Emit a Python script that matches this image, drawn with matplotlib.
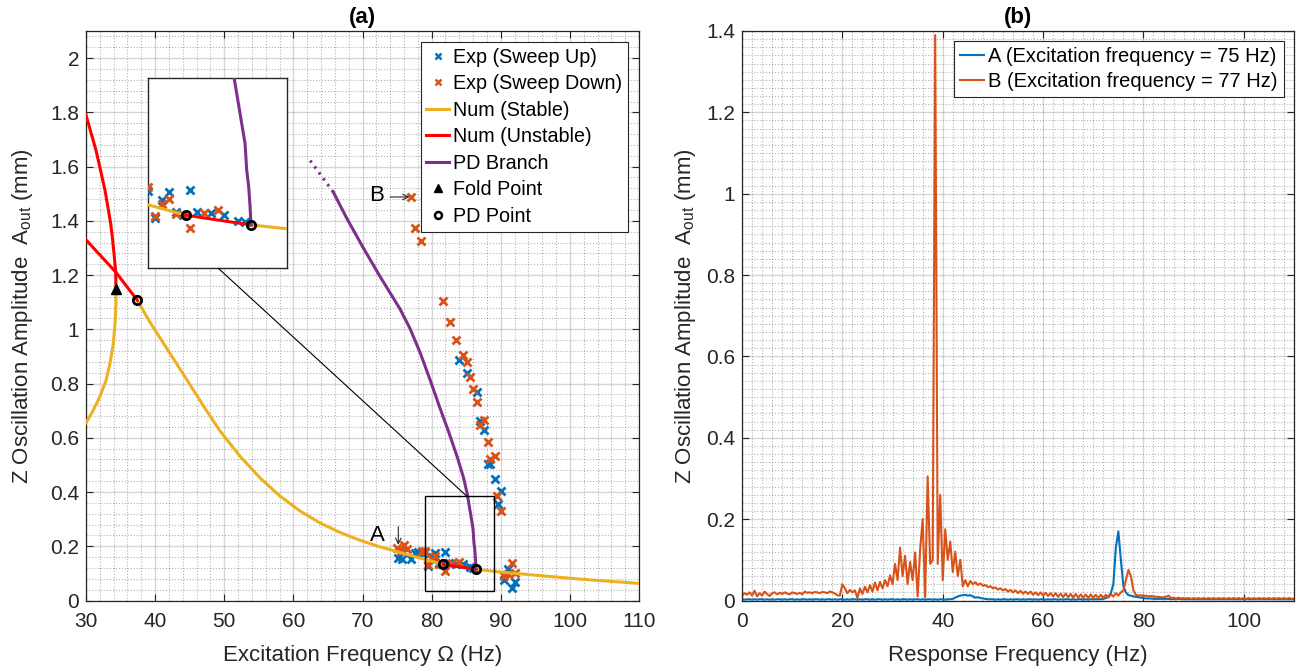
import numpy as np
import matplotlib
matplotlib.use('Agg')
import matplotlib.pyplot as plt
from matplotlib.lines import Line2D
from matplotlib.patches import Rectangle, ConnectionPatch
from matplotlib.ticker import MultipleLocator, FuncFormatter

plt.rcParams['font.family'] = ['Liberation Sans', 'DejaVu Sans']
plt.rcParams['mathtext.fontset'] = 'custom'
plt.rcParams['mathtext.rm'] = 'Liberation Sans'
plt.rcParams['mathtext.it'] = 'Liberation Sans:italic'

# ---------------- Panel (a) data ----------------
stable_x = [37.42, 39.26, 42.15, 44.57, 46.97, 49.39, 52.28, 55.17, 58.07, 60.96, 63.85, 66.75,
            69.64, 72.53, 75.43, 79.0, 81.69]
stable_y = [1.107, 1.026, 0.911, 0.815, 0.718, 0.625, 0.532, 0.452, 0.385, 0.330, 0.286, 0.251,
            0.222, 0.198, 0.177, 0.152, 0.133]
stable2_x = [86.42, 90.0, 94.7, 101.9, 110.0]
stable2_y = [0.115, 0.105, 0.094, 0.078, 0.063]
stable3_x = [34.34, 34.34, 34.28, 34.2, 33.95, 33.47, 32.9, 32.0, 31.06, 30.0]
stable3_y = [1.147, 1.096, 1.06, 1.021, 0.948, 0.874, 0.812, 0.751, 0.702, 0.655]

unstable1_x = [34.34, 34.3, 34.1, 33.85, 33.57, 32.75, 31.45, 30.0]
unstable1_y = [1.147, 1.21, 1.267, 1.33, 1.39, 1.513, 1.66, 1.79]
unstable2_x = [30.0, 32.27, 34.34, 37.42]
unstable2_y = [1.33, 1.267, 1.21, 1.107]
unstable3_x = [81.69, 84.0, 86.42]
unstable3_y = [0.133, 0.124, 0.115]

pd_x = [86.42, 86.35, 86.25, 86.11, 85.99, 85.63, 85.14, 84.59, 83.63, 82.42, 81.2, 79.76, 78.32,
        76.87, 75.43, 72.53, 70.12, 67.71, 65.78]
pd_y = [0.115, 0.15, 0.186, 0.216, 0.265, 0.32, 0.395, 0.455, 0.535, 0.625, 0.710, 0.815, 0.915,
        1.003, 1.075, 1.195, 1.300, 1.410, 1.506]
pd_dot_x = [65.78, 62.4]
pd_dot_y = [1.506, 1.623]

fold_x = [34.34]
fold_y = [1.147]
pdpt_x = [37.42, 81.69, 86.42]
pdpt_y = [1.107, 0.133, 0.115]

up_x = [75.1, 75.7, 77.0, 77.6, 78.1, 78.7, 79.0, 79.5, 80.0, 80.5, 81.0, 81.5, 82.0, 82.5,
        83.5, 84.5, 85.5, 86.0, 84.0, 85.1, 86.6, 87.0, 87.6, 88.2, 88.5, 89.1, 90.1, 89.6,
        91.0, 90.5, 92.1, 91.6]
up_y = [0.158, 0.154, 0.152, 0.176, 0.180, 0.171, 0.178, 0.127, 0.161, 0.176, 0.138, 0.133, 0.180, 0.138,
        0.136, 0.134, 0.123, 0.120, 0.886, 0.840, 0.769, 0.661, 0.628, 0.503, 0.505, 0.448, 0.403, 0.354,
        0.116, 0.075, 0.067, 0.045]
down_x = [77.0, 77.6, 78.5, 81.6, 82.6, 83.5, 84.5, 85.1, 85.6, 86.0, 86.5, 87.0, 87.6, 88.1,
          88.5, 89.1, 89.5, 90.0, 91.6, 92.0, 91.0, 90.5, 75.0, 75.5, 76.0, 76.5, 78.6, 79.0,
          79.5, 80.0, 80.5, 81.0, 82.0, 83.0, 84.0]
down_y = [1.488, 1.374, 1.326, 1.103, 1.026, 0.962, 0.907, 0.880, 0.825, 0.780, 0.733, 0.647, 0.667, 0.585,
          0.520, 0.532, 0.385, 0.330, 0.137, 0.103, 0.098, 0.090, 0.195, 0.184, 0.204, 0.190, 0.182, 0.184,
          0.131, 0.153, 0.163, 0.135, 0.110, 0.137, 0.142]

# ---------------- Panel (b) data (0 to 110 Hz, 0.5 Hz step) ----------------
spec_A = [
    0.003, 0.002, 0.003, 0.003, 0.002, 0.003, 0.002, 0.003, 0.003, 0.002,
    0.003, 0.002, 0.003, 0.002, 0.003, 0.003, 0.002, 0.003, 0.002, 0.003,
    0.003, 0.002, 0.003, 0.002, 0.003, 0.003, 0.002, 0.003, 0.002, 0.003,
    0.003, 0.002, 0.003, 0.002, 0.003, 0.003, 0.002, 0.003, 0.002, 0.003,
    0.003, 0.002, 0.003, 0.002, 0.003, 0.003, 0.002, 0.003, 0.002, 0.003,
    0.003, 0.002, 0.003, 0.002, 0.003, 0.003, 0.002, 0.003, 0.002, 0.003,
    0.003, 0.002, 0.003, 0.002, 0.003, 0.003, 0.002, 0.003, 0.002, 0.003,
    0.003, 0.002, 0.003, 0.002, 0.003, 0.003, 0.002, 0.003, 0.002, 0.003,
    0.003, 0.002, 0.003, 0.003,
    0.004, 0.007, 0.010, 0.012, 0.013, 0.014, 0.012, 0.013, 0.010, 0.007,
    0.008, 0.006, 0.005, 0.004, 0.003, 0.003,
    0.003, 0.002, 0.003, 0.002, 0.003, 0.003, 0.002, 0.003, 0.002, 0.003,
    0.003, 0.002, 0.003, 0.002, 0.003, 0.003, 0.002, 0.003, 0.002, 0.003,
    0.003, 0.002, 0.003, 0.002, 0.003, 0.003, 0.002, 0.003, 0.002, 0.003,
    0.003, 0.002, 0.003, 0.002, 0.003, 0.003, 0.002, 0.003, 0.002, 0.003,
    0.003, 0.003, 0.003, 0.003,
    0.004, 0.006, 0.010, 0.018, 0.040, 0.130, 0.170, 0.100, 0.035, 0.020,
    0.013, 0.012, 0.010, 0.009, 0.008, 0.007,
    0.006, 0.005, 0.005, 0.005, 0.004, 0.004, 0.004, 0.004, 0.004, 0.004,
    0.004, 0.003, 0.004, 0.003, 0.004, 0.003, 0.003, 0.003, 0.003, 0.003,
    0.003, 0.003, 0.003, 0.003, 0.003, 0.003, 0.003, 0.003, 0.003, 0.003,
    0.003, 0.003, 0.003, 0.003, 0.003, 0.003, 0.003, 0.003, 0.003, 0.003,
    0.003, 0.003, 0.003, 0.003, 0.003, 0.003, 0.003, 0.003, 0.003, 0.003,
    0.003, 0.003, 0.003, 0.003, 0.003, 0.003, 0.003, 0.003, 0.003, 0.003,
    0.003,
]
spec_B = [
    0.012, 0.018, 0.014, 0.020, 0.012, 0.024, 0.010, 0.018, 0.012, 0.022,
    0.016, 0.011, 0.018, 0.020, 0.015, 0.019, 0.016, 0.020, 0.017, 0.015,
    0.020, 0.018, 0.016, 0.019, 0.015, 0.022, 0.019, 0.020, 0.018, 0.021,
    0.020, 0.018, 0.021, 0.020, 0.018, 0.022, 0.020, 0.017, 0.013, 0.012,
    0.040, 0.030, 0.018, 0.026, 0.020, 0.025, 0.006, 0.030, 0.016, 0.034,
    0.020, 0.038, 0.022, 0.044, 0.025, 0.046, 0.030, 0.050, 0.035, 0.062,
    0.040, 0.090, 0.050, 0.130, 0.060, 0.110, 0.040, 0.095, 0.050, 0.118,
    0.010, 0.125, 0.200, 0.008, 0.305, 0.090, 0.100, 1.390, 0.090, 0.260,
    0.050, 0.175, 0.100, 0.145, 0.070, 0.120, 0.060, 0.100, 0.035, 0.050,
    0.035, 0.048, 0.040, 0.045, 0.038, 0.042, 0.036, 0.038, 0.033, 0.035,
    0.030, 0.032, 0.027, 0.030, 0.025, 0.028, 0.022, 0.026, 0.020, 0.025,
    0.018, 0.024, 0.017, 0.022, 0.016, 0.022, 0.014, 0.020, 0.013, 0.020,
    0.012, 0.019, 0.011, 0.018, 0.010, 0.018, 0.009, 0.017, 0.008, 0.017,
    0.008, 0.016, 0.007, 0.016, 0.007, 0.015, 0.006, 0.015, 0.006, 0.015,
    0.006, 0.014, 0.006, 0.014, 0.006, 0.014, 0.007, 0.015, 0.010, 0.018,
    0.012, 0.020, 0.025, 0.050, 0.075, 0.060, 0.025, 0.014, 0.012, 0.013,
    0.011, 0.012, 0.010, 0.011, 0.010, 0.009, 0.009, 0.008, 0.008, 0.009,
    0.012, 0.006, 0.007, 0.005, 0.007, 0.005, 0.006, 0.005, 0.006, 0.004,
    0.006, 0.004, 0.006, 0.004, 0.006, 0.004, 0.006, 0.004, 0.006, 0.004,
    0.006, 0.004, 0.006, 0.004, 0.006, 0.004, 0.006, 0.004, 0.006, 0.004,
    0.006, 0.004, 0.006, 0.004, 0.006, 0.004, 0.006, 0.004, 0.006, 0.004,
    0.006, 0.004, 0.006, 0.004, 0.006, 0.004, 0.006, 0.004, 0.006, 0.004,
    0.005,
]
freq_b = np.linspace(0, 110, len(spec_B))

C_UP = '#0072BD'
C_DN = '#D95319'
C_ST = '#EDB120'
C_UN = '#FF0000'
C_PD = '#7E2F8E'
DARK = '#262626'

W, H = 1309, 671
fig = plt.figure(figsize=(W / 100, H / 100), dpi=100)
ax1 = fig.add_axes([86 / W, 70.5 / H, 553 / W, 569.5 / H])
ax2 = fig.add_axes([742 / W, 70.5 / H, 552 / W, 569.5 / H])


def style(ax):
    ax.tick_params(which='major', direction='in', length=5, width=0.8, top=True, right=True,
                   labelsize=15, colors=DARK)
    ax.tick_params(axis='x', which='major', pad=8)
    ax.tick_params(axis='y', which='major', pad=5)
    ax.tick_params(which='minor', length=0, top=True, right=True)
    for s in ax.spines.values():
        s.set_color(DARK)
        s.set_linewidth(0.9)
    ax.grid(True, which='major', color=DARK, alpha=0.18, lw=1.0)
    ax.grid(True, which='minor', color=DARK, alpha=0.35, lw=0.8, ls=':')
    ax.set_axisbelow(True)


fmt = FuncFormatter(lambda v, p: '%g' % round(v, 3))


def draw_a(ax, ms_x=5.5):
    ax.plot(up_x, up_y, ls='none', marker='x', color=C_UP, ms=ms_x, mew=2.0, zorder=3)
    ax.plot(down_x, down_y, ls='none', marker='x', color=C_DN, ms=ms_x, mew=2.0, zorder=3)
    ax.plot(stable_x, stable_y, color=C_ST, lw=2.2, zorder=4)
    ax.plot(stable2_x, stable2_y, color=C_ST, lw=2.2, zorder=4)
    ax.plot(stable3_x, stable3_y, color=C_ST, lw=2.2, zorder=4)
    ax.plot(unstable1_x, unstable1_y, color=C_UN, lw=2.2, zorder=4)
    ax.plot(unstable2_x, unstable2_y, color=C_UN, lw=2.2, zorder=4)
    ax.plot(unstable3_x, unstable3_y, color=C_UN, lw=2.2, zorder=4)
    ax.plot(pd_x, pd_y, color=C_PD, lw=2.2, zorder=4)
    ax.plot(pd_dot_x, pd_dot_y, color=C_PD, lw=2.2, ls=(0, (0.8, 1.6)), zorder=4)
    ax.plot(fold_x, fold_y, ls='none', marker='^', color='k', ms=7, zorder=5)
    ax.plot(pdpt_x, pdpt_y, ls='none', marker='o', mfc='none', mec='k', ms=6, mew=2.0, zorder=5)


# ---------------- Panel (a) ----------------
style(ax1)
draw_a(ax1)
ax1.set_xlim(30, 110)
ax1.set_ylim(0, 2.1)
ax1.xaxis.set_major_locator(MultipleLocator(10))
ax1.xaxis.set_minor_locator(MultipleLocator(2))
ax1.yaxis.set_major_locator(MultipleLocator(0.2))
ax1.yaxis.set_minor_locator(MultipleLocator(0.04))
ax1.yaxis.set_major_formatter(fmt)
ax1.set_xlabel('Excitation Frequency \u03a9 (Hz)', fontsize=16, color=DARK, labelpad=10)
ax1.set_ylabel('Z Oscillation Amplitude  A$_{\\mathrm{out}}$ (mm)', fontsize=16, color=DARK,
               labelpad=11)
ax1.set_title('(a)', fontsize=16, fontweight='bold', pad=6)

ax1.add_patch(Rectangle((79, 0.035), 10, 0.35, fill=False, ec='k', lw=1.0, zorder=6))
ax1.annotate('', xy=(75.18, 0.205), xytext=(75.18, 0.272),
             arrowprops=dict(arrowstyle='->', color=DARK, lw=0.8, shrinkA=0, shrinkB=0), zorder=7)
ax1.text(72.2, 0.241, 'A', fontsize=16, ha='center', va='center', color='k')
ax1.annotate('', xy=(76.8, 1.488), xytext=(74.0, 1.488),
             arrowprops=dict(arrowstyle='->', color=DARK, lw=0.8, shrinkA=0, shrinkB=0), zorder=7)
ax1.text(72.1, 1.494, 'B', fontsize=16, ha='center', va='center', color='k')

leg_handles = [
    Line2D([], [], ls='none', marker='x', color=C_UP, ms=4, mew=1.8),
    Line2D([], [], ls='none', marker='x', color=C_DN, ms=4, mew=1.8),
    Line2D([], [], color=C_ST, lw=2.2),
    Line2D([], [], color=C_UN, lw=2.2),
    Line2D([], [], color=C_PD, lw=2.2),
    Line2D([], [], ls='none', marker='^', color='k', ms=6),
    Line2D([], [], ls='none', marker='o', mfc='none', mec='k', ms=5, mew=1.8),
]
leg_labels = ['Exp (Sweep Up)', 'Exp (Sweep Down)', 'Num (Stable)', 'Num (Unstable)',
              'PD Branch', 'Fold Point', 'PD Point']
leg1 = ax1.legend(leg_handles, leg_labels, loc='upper right', fontsize=14.2, frameon=True,
                  fancybox=False, edgecolor=DARK, framealpha=1, handlelength=1.15,
                  handletextpad=0.2, labelspacing=0.38, borderpad=0.3, borderaxespad=0.55)
leg1.get_frame().set_linewidth(0.8)
leg1.set_zorder(10)

# inset
axi = fig.add_axes([148.3 / W, (H - 268.3) / H, 138.4 / W, 190 / H])
draw_a(axi)
axi.set_xlim(79, 89)
axi.set_ylim(0.035, 0.385)
axi.set_xticks([])
axi.set_yticks([])
for s in axi.spines.values():
    s.set_color(DARK)
    s.set_linewidth(1.0)
con = ConnectionPatch(xyA=(84.06, 0.035), coordsA=axi.transData,
                      xyB=(85.07, 0.385), coordsB=ax1.transData, color='k', lw=0.8)
fig.add_artist(con)

# ---------------- Panel (b) ----------------
style(ax2)
ax2.plot(freq_b, spec_A, color=C_UP, lw=1.5, label='A (Excitation frequency = 75 Hz)')
ax2.plot(freq_b, spec_B, color=C_DN, lw=1.5, label='B (Excitation frequency = 77 Hz)')
ax2.set_xlim(0, 110)
ax2.set_ylim(0, 1.4)
ax2.xaxis.set_major_locator(MultipleLocator(20))
ax2.xaxis.set_minor_locator(MultipleLocator(2))
ax2.yaxis.set_major_locator(MultipleLocator(0.2))
ax2.yaxis.set_minor_locator(MultipleLocator(0.02))
ax2.yaxis.set_major_formatter(fmt)
ax2.set_xlabel('Response Frequency (Hz)', fontsize=16, color=DARK, labelpad=10)
ax2.set_ylabel('Z Oscillation Amplitude  A$_{\\mathrm{out}}$ (mm)', fontsize=16, color=DARK,
               labelpad=6)
ax2.set_title('(b)', fontsize=16, fontweight='bold', pad=6)
leg2 = ax2.legend(loc='upper right', fontsize=14.5, frameon=True, fancybox=False, edgecolor=DARK,
                  framealpha=1, handlelength=1.2, handletextpad=0.2, labelspacing=0.3,
                  borderpad=0.3, borderaxespad=0.5)
leg2.get_frame().set_linewidth(0.8)

fig.savefig('out.png', dpi=100)
